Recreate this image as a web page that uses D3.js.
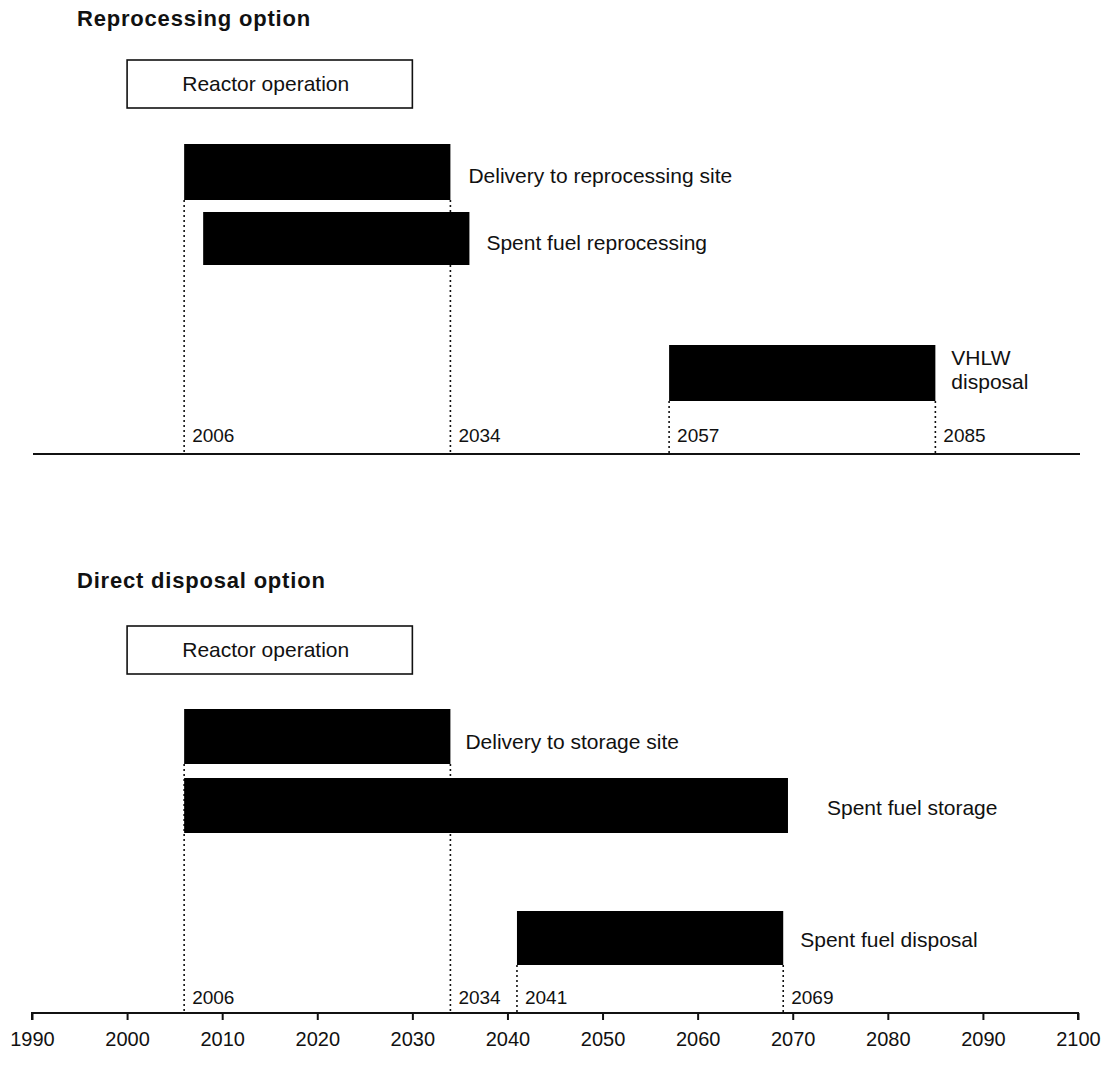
<!DOCTYPE html>
<html>
<head>
<meta charset="utf-8">
<script src="https://cdn.jsdelivr.net/npm/d3@7"></script>
<style>
  html, body { margin: 0; padding: 0; background: #fff; }
  svg { display: block; font-family: "Liberation Sans", Arial, Helvetica, sans-serif; }
</style>
</head>
<body>
<svg id="chart" width="1111" height="1065"></svg>
<script>
// ---------------- data ----------------
const panelTitles = ["Reprocessing option", "Direct disposal option"];

const reproTasks  = ["Reactor operation", "Delivery to reprocessing site", "Spent fuel reprocessing", "VHLW|disposal"];
const reproStart  = [2000, 2006, 2008, 2057];
const reproEnd    = [2030, 2034, 2036, 2085];
const reproMarkers = [2006, 2034, 2057, 2085];

const directTasks  = ["Reactor operation", "Delivery to storage site", "Spent fuel storage", "Spent fuel disposal"];
const directStart  = [2000, 2006, 2006, 2041];
const directEnd    = [2030, 2034, 2069.5, 2069];
const directMarkers = [2006, 2034, 2041, 2069];

const axisTicks = [1990, 2000, 2010, 2020, 2030, 2040, 2050, 2060, 2070, 2080, 2090, 2100];

// ---------------- layout ----------------
const W = 1111, H = 1065;
const svg = d3.select("#chart");
const x = d3.scaleLinear().domain([1990, 2100]).range([32, 1078]);

const panels = [
  { title: panelTitles[0], tasks: reproTasks, start: reproStart, end: reproEnd, markers: reproMarkers,
    titleY: 26, rowTop: [60, 144, 212, 345], rowH: [48, 56, 53, 56], axisY: 454,
    labelGap: [0, 18, 17, 16], labelDy: [0, 13, 13, -8], markerLabelY: 442, ticks: false },
  { title: panelTitles[1], tasks: directTasks, start: directStart, end: directEnd, markers: directMarkers,
    titleY: 588, rowTop: [626, 709, 778, 911], rowH: [48, 55, 55, 54], axisY: 1013,
    labelGap: [0, 15, 39, 17], labelDy: [0, 14, 11, 11], markerLabelY: 1004, ticks: true }
];

panels.forEach(p => {
  const g = svg.append("g");

  // title
  g.append("text")
    .attr("x", 77).attr("y", p.titleY)
    .attr("font-size", 22).attr("font-weight", "bold")
    .attr("letter-spacing", 0.8)
    .attr("fill", "#111")
    .text(p.title);

  // marker dotted lines (drawn first, bars cover them)
  p.markers.forEach(m => {
    let idx = -1;
    for (let i = 1; i < p.tasks.length; i++) {
      if (p.start[i] === m || p.end[i] === m) { idx = i; break; }
    }
    const y0 = p.rowTop[idx] + p.rowH[idx];
    g.append("line")
      .attr("x1", x(m)).attr("x2", x(m))
      .attr("y1", y0).attr("y2", p.axisY)
      .attr("stroke", "#111").attr("stroke-width", 1.6)
      .attr("stroke-dasharray", "2,3");
    g.append("text")
      .attr("x", x(m) + 8).attr("y", p.markerLabelY)
      .attr("font-size", 19)
      .attr("fill", "#111")
      .text(m);
  });

  // bars
  p.tasks.forEach((t, i) => {
    const x0 = x(p.start[i]), x1 = x(p.end[i]);
    if (i === 0) {
      g.append("rect")
        .attr("x", x0).attr("y", p.rowTop[i])
        .attr("width", x1 - x0).attr("height", p.rowH[i])
        .attr("fill", "#fff").attr("stroke", "#111").attr("stroke-width", 1.6);
      g.append("text")
        .attr("x", (x0 + x1) / 2 - 4).attr("y", p.rowTop[i] + p.rowH[i] / 2 + 7)
        .attr("text-anchor", "middle")
        .attr("font-size", 21).attr("fill", "#111")
        .text(t);
    } else {
      g.append("rect")
        .attr("x", x0).attr("y", p.rowTop[i])
        .attr("width", x1 - x0).attr("height", p.rowH[i])
        .attr("fill", "#000");
      const lines = t.split("|");
      const tx = x1 + p.labelGap[i];
      const baseY = p.rowTop[i] + p.rowH[i] / 2 + p.labelDy[i] - (lines.length > 1 ? 0 : 2);
      const txt = g.append("text")
        .attr("x", tx).attr("y", baseY)
        .attr("font-size", 21).attr("fill", "#111");
      lines.forEach((l, k) => {
        txt.append("tspan").attr("x", tx).attr("dy", k === 0 ? 0 : 24).text(l);
      });
    }
  });

  // axis line
  if (p.ticks) {
    const axis = d3.axisBottom(x).tickValues(axisTicks).tickFormat(d3.format("d"))
      .tickSize(7).tickPadding(12);
    const ag = g.append("g").attr("transform", `translate(0,${p.axisY})`).call(axis);
    ag.select(".domain").attr("d", `M${x(1990)},7V0H${x(2100)}V7`).attr("stroke", "#111").attr("stroke-width", 2);
    ag.selectAll(".tick line").attr("stroke", "#111").attr("stroke-width", 2);
    ag.selectAll(".tick text")
      .attr("font-family", "Liberation Sans, Arial, sans-serif")
      .attr("font-size", 20).attr("fill", "#111");
  } else {
    g.append("line")
      .attr("x1", x(1990) + 1).attr("x2", x(2100) + 2)
      .attr("y1", p.axisY).attr("y2", p.axisY)
      .attr("stroke", "#111").attr("stroke-width", 2);
  }
});
</script>
</body>
</html>
